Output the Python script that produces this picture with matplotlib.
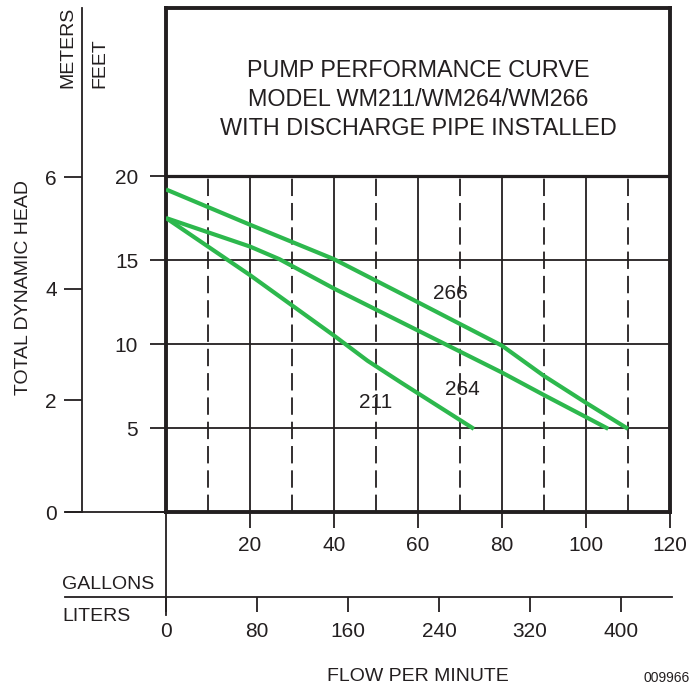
import matplotlib
matplotlib.use('Agg')
import matplotlib.pyplot as plt
from matplotlib import font_manager

# pump curves (gallons per minute vs feet of head)
gal_266 = [0, 20, 40, 56, 80, 90, 100, 110]
ft_266 = [19.2, 17.1, 15.05, 13.0, 9.9, 8.1, 6.5, 4.95]
gal_264 = [0, 20, 27, 40, 80, 90, 100, 105.3]
ft_264 = [17.5, 15.8, 15.05, 13.3, 8.3, 6.96, 5.65, 4.95]
gal_211 = [0, 20, 30, 40, 48, 56, 73.3]
ft_211 = [17.5, 14.1, 12.3, 10.5, 9.0, 7.7, 4.95]

feet_ticks = [0, 5, 10, 15, 20]
feet_labels = ['', '5', '10', '15', '20']
meter_ticks = [0, 2, 4, 6]
gallon_ticks = [20, 40, 60, 80, 100, 120]
liter_ticks = [0, 80, 160, 240, 320, 400]
solid_grid_x = [20, 40, 60, 80, 100]
dashed_grid_x = [10, 30, 50, 70, 90, 110]
grid_y = [5, 10, 15]

title_lines = ['PUMP PERFORMANCE CURVE', 'MODEL WM211/WM264/WM266',
               'WITH DISCHARGE PIPE INSTALLED']

W, H = 695, 684
ink = '#231f20'
green = '#2db84d'

names = {f.name for f in font_manager.fontManager.ttflist}
if 'Liberation Sans Narrow' in names:
    lab_font = 'Liberation Sans Narrow'
    tick_size = 16
    lab_size = 16
else:
    lab_font = 'Liberation Sans'
    tick_size = 15
    lab_size = 14
plt.rcParams['font.family'] = ['Liberation Sans', 'DejaVu Sans']
plt.rcParams['lines.scale_dashes'] = False


def fx(px):
    return px / W


def fy(py):
    return 1 - py / H


fig = plt.figure(figsize=(W / 100, H / 100), dpi=100)

# main box: 0..120 gpm, 0..30 ft
x0, x1, ytop, ybot = 166, 670, 8, 512
ax = fig.add_axes([fx(x0), fy(ybot), (x1 - x0) / W, (ybot - ytop) / H])
ax.set_xlim(0, 120)
ax.set_ylim(0, 30)
for s in ax.spines.values():
    s.set_linewidth(2.8)
    s.set_color(ink)

for y in grid_y:
    ax.plot([0, 120], [y, y], color=ink, lw=1.3, zorder=1)
ax.plot([0, 120], [20, 20], color=ink, lw=2.3, zorder=2)
for x in solid_grid_x:
    ax.plot([x, x], [0, 20], color=ink, lw=1.3, zorder=1)
for x in dashed_grid_x:
    ax.plot([x, x], [0, 20], color=ink, lw=1.3, ls=(0, (12.5, 5)), zorder=1)

for g, f in [(gal_266, ft_266), (gal_264, ft_264), (gal_211, ft_211)]:
    ax.plot(g, f, color=green, lw=3.0, solid_capstyle='butt', zorder=3)

ax.text(67.7, 12.68, '266', ha='center', va='baseline', color=ink,
        family=lab_font, size=tick_size)
ax.text(70.6, 6.96, '264', ha='center', va='baseline', color=ink,
        family=lab_font, size=tick_size)
ax.text(49.8, 6.19, '211', ha='center', va='baseline', color=ink,
        family=lab_font, size=tick_size)

for i, t in enumerate(title_lines):
    ax.text(60, 30 - (77 + i * 29 - ytop) / 16.8, t, ha='center', va='baseline',
            color=ink, size=16.8)

ax.set_yticks(feet_ticks)
ax.set_yticklabels(feet_labels)
ax.set_xticks(gallon_ticks)
ax.set_xticklabels([str(v) for v in gallon_ticks])
ax.tick_params(axis='y', direction='out', length=11.5, width=1.3, pad=8.5,
               colors=ink, labelsize=tick_size)
ax.tick_params(axis='x', direction='out', length=11.5, width=1.3, pad=5.5,
               colors=ink, labelsize=tick_size)
for lbl in ax.get_xticklabels() + ax.get_yticklabels():
    lbl.set_family(lab_font)

# lines reaching outside the box
ax.plot([-(x0 - 66) / 4.2, 0], [0, 0], color=ink, lw=1.3, clip_on=False)
ax.plot([0, 0], [0, -(615 - ybot) / 16.8], color=ink, lw=1.3, clip_on=False)

# meters axis
axm = fig.add_axes([fx(82), fy(ybot), 0.01, (ybot - ytop) / H])
axm.patch.set_visible(False)
for k in ['top', 'right', 'bottom']:
    axm.spines[k].set_visible(False)
axm.spines['left'].set_linewidth(1.3)
axm.spines['left'].set_color(ink)
axm.set_ylim(0, 30 / 3.32)
axm.set_xticks([])
axm.set_yticks(meter_ticks)
axm.tick_params(axis='y', direction='out', length=13, width=1.3, pad=5,
                colors=ink, labelsize=tick_size)
for lbl in axm.get_yticklabels():
    lbl.set_family(lab_font)

# liters axis
axl = fig.add_axes([fx(65), fy(597), (672 - 65) / W, 0.001])
axl.patch.set_visible(False)
for k in ['top', 'right', 'left']:
    axl.spines[k].set_visible(False)
axl.spines['bottom'].set_linewidth(1.3)
axl.spines['bottom'].set_color(ink)
axl.set_xlim((65 - 166) / 1.1375, (672 - 166) / 1.1375)
axl.set_yticks([])
axl.set_xticks(liter_ticks)
axl.tick_params(axis='x', direction='out', length=10.8, width=1.3, pad=7,
                colors=ink, labelsize=tick_size)
for lbl in axl.get_xticklabels():
    lbl.set_family(lab_font)

# axis titles
kw = dict(color=ink, family=lab_font, size=lab_size)
fig.text(fx(24), fy(287.5), 'TOTAL DYNAMIC HEAD', rotation=90, ha='center',
         va='center', **kw)
fig.text(fx(68), fy(88), 'METERS', rotation=90, ha='center', va='bottom', **kw)
fig.text(fx(100), fy(88), 'FEET', rotation=90, ha='center', va='bottom', **kw)
fig.text(fx(62), fy(589), 'GALLONS', ha='left', va='baseline', **kw)
fig.text(fx(62), fy(621), 'LITERS', ha='left', va='baseline', **kw)
fig.text(fx(418), fy(681), 'FLOW PER MINUTE', ha='center', va='baseline', **kw)
fig.text(fx(690), fy(682), '009966', ha='right', va='baseline', color=ink, size=10)

fig.savefig('out.png', dpi=100)
